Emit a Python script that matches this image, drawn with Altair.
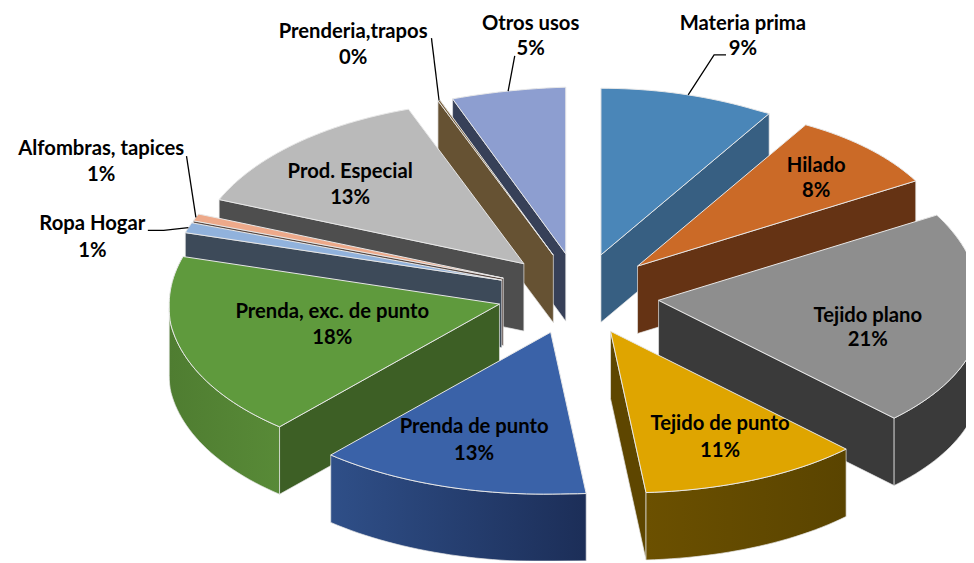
import math
import altair as alt

# ---- chart values ----
labels = ["Materia prima", "Hilado", "Tejido plano", "Tejido de punto", "Prenda de punto",
          "Prenda, exc. de punto", "Ropa Hogar", "Alfombras, tapices", "Prod. Especial",
          "Prenderia,trapos", "Otros usos"]
printed = ["9%", "8%", "21%", "11%", "13%", "18%", "1%", "1%", "13%", "0%", "5%"]
shares = [9.0, 8.0, 21.0, 11.0, 13.0, 18.0, 1.0, 0.7, 13.3, 0.1, 4.9]

# ---- styles ----
top_colors = ["#4a86b8", "#cb6a27", "#8e8e8e", "#dfa500", "#3a62a8", "#5f9a3d",
              "#91b2dc", "#eda98a", "#bababa", "#7d6440", "#8d9ed0"]
wall_colors = ["#375f82", "#653314", "#3a3a3a", "#5e4600", "#2a4478", "#3d5f25",
               "#3d4a59", "#5a4a44", "#4e4e4e", "#665233", "#374058"]
outer_grad = {2: ("#3a3a3a", "#3a3a3a"), 3: ("#6b5000", "#5a4400"),
              4: ("#2f4f88", "#1c2e58"), 5: ("#4f7d31", "#588a37")}
# ---- layout of the projected pie ----
CX, CY = 583, 294
A, B_BACK, B_FRONT, DEPTH = 325, 168, 163, 68
EXPLODE_X, EXPLODE_Y = 82, 41
label_xy = [(749, 22, 47), (823, 165, 190), (875, 316, 341), (726, 425, 452), (478, 428, 455),
            (335, 312, 338), (93, 224, 251), (102, 148, 174), (353, 171, 197), (356, 30, 56),
            (535, 22, 47)]
leaders = {0: [(720, 53), (732, 53)], 6: [(165, 230), (149, 230)], 7: [(188, 155)],
           9: [(435, 36)], 10: [(519, 54)]}
FONT = "Lato"
FS = 20.4
PROJ = dict(type="identity", scale=1, translate=[-8, -8])


def back_left(deg):
    return min(1, (deg - 225) / 40, (360 - deg) / 18)


def warp_x(deg):
    if deg < 90:
        return -5 * math.sin(math.radians(2 * deg))
    if deg < 225:
        return 17 * math.sin(math.radians((deg - 90) * 4 / 3))
    if deg < 360:
        return -(8 + max(0, deg - 270) * 0.11) * back_left(deg)
    return 0.0


def warp_y(deg):
    dy = 0.0
    if 30 < deg < 90:
        dy -= 5 * math.sin(math.radians((deg - 30) * 3))
    if 180 < deg < 270:
        dy += 5 * math.sin(math.radians((deg - 180) * 2))
    if 225 < deg < 360:
        dy += 4 * back_left(deg)
    return dy


def rim(apex, deg):
    t = math.radians(deg)
    c = math.cos(t)
    return (apex[0] + A * math.sin(t) + warp_x(deg % 360),
            apex[1] - (B_BACK if c > 0 else B_FRONT) * c + warp_y(deg % 360))


def drop(p):
    return (p[0], p[1] + DEPTH)


def feature(points, closed=True):
    pts = [list(p) for p in points]
    if closed:
        pts = pts + [pts[0]]
        geom = {"type": "Polygon", "coordinates": [pts]}
    else:
        geom = {"type": "LineString", "coordinates": pts}
    return {"type": "Feature", "properties": {}, "geometry": geom}


def poly(points, **mark):
    return alt.Chart(alt.Data(values=[feature(points)])).mark_geoshape(**mark).project(**PROJ)


def arc_points(apex, d1, d2):
    n = max(2, int(abs(d2 - d1) / 1.5) + 2)
    return [rim(apex, d1 + (d2 - d1) * i / (n - 1)) for i in range(n)]


# slice angles from shares
bounds = []
acc = 0.0
total = sum(shares)
for s in shares:
    bounds.append((acc / total * 360, (acc + s) / total * 360))
    acc += s

apexes = []
for d1, d2 in bounds:
    m = math.radians((d1 + d2) / 2)
    apexes.append((CX + EXPLODE_X * math.sin(m), CY - EXPLODE_Y * math.cos(m)))

# back-to-front paint order
order = sorted(range(len(shares)),
               key=lambda i: -math.cos(math.radians(sum(bounds[i]) / 2)))

EDGE = dict(stroke="#e6e6e6", strokeWidth=0.7)
layers = []
for i in order:
    d1, d2 = bounds[i]
    ap = apexes[i]
    if d2 < 180:   # closing radial wall faces the viewer
        e = rim(ap, d2)
        layers.append(poly([ap, e, drop(e), drop(ap)], fill=wall_colors[i], **EDGE))
    if d1 > 180:   # opening radial wall faces the viewer
        e = rim(ap, d1)
        layers.append(poly([ap, e, drop(e), drop(ap)], fill=wall_colors[i], **EDGE))
    lo, hi = max(d1, 90), min(d2, 270)
    if hi > lo:    # outer curved wall
        arc = arc_points(ap, lo, hi)
        c1, c2 = outer_grad.get(i, (wall_colors[i], wall_colors[i]))
        grad = alt.Gradient(gradient="linear", x1=0, x2=1, y1=0, y2=0,
                            stops=[alt.GradientStop(color=c1, offset=0),
                                   alt.GradientStop(color=c2, offset=1)])
        layers.append(poly(arc + [drop(p) for p in reversed(arc)], fill=grad, **EDGE))
    layers.append(poly([ap] + arc_points(ap, d1, d2), fill=top_colors[i],
                       stroke="#e8e8e8", strokeWidth=1))

# leader lines start on the slice rim at its mid-angle
for i, tail in leaders.items():
    start = rim(apexes[i], sum(bounds[i]) / 2)
    layers.append(alt.Chart(alt.Data(values=[feature([start] + tail, closed=False)]))
                  .mark_geoshape(filled=False, stroke="#000000", strokeWidth=1.3).project(**PROJ))

# labels
rows = []
for name, pct, (x, y1, y2) in zip(labels, printed, label_xy):
    rows.append({"t": name, "x": x, "y": y1})
    rows.append({"t": pct, "x": x, "y": y2})
text = (alt.Chart(alt.Data(values=rows))
        .mark_text(font=FONT, fontSize=FS, fontWeight="bold", color="#000000",
                   align="center", baseline="middle")
        .encode(longitude="x:Q", latitude="y:Q", text="t:N")
        .project(**PROJ))
layers.append(text)

chart = (alt.layer(*layers)
         .properties(width=966, height=555, padding=0,
                     autosize=alt.AutoSizeParams(type="none"), background="#ffffff")
         .configure_view(stroke=None))
chart.save("out.html", embed_options={"renderer": "svg", "actions": False})
